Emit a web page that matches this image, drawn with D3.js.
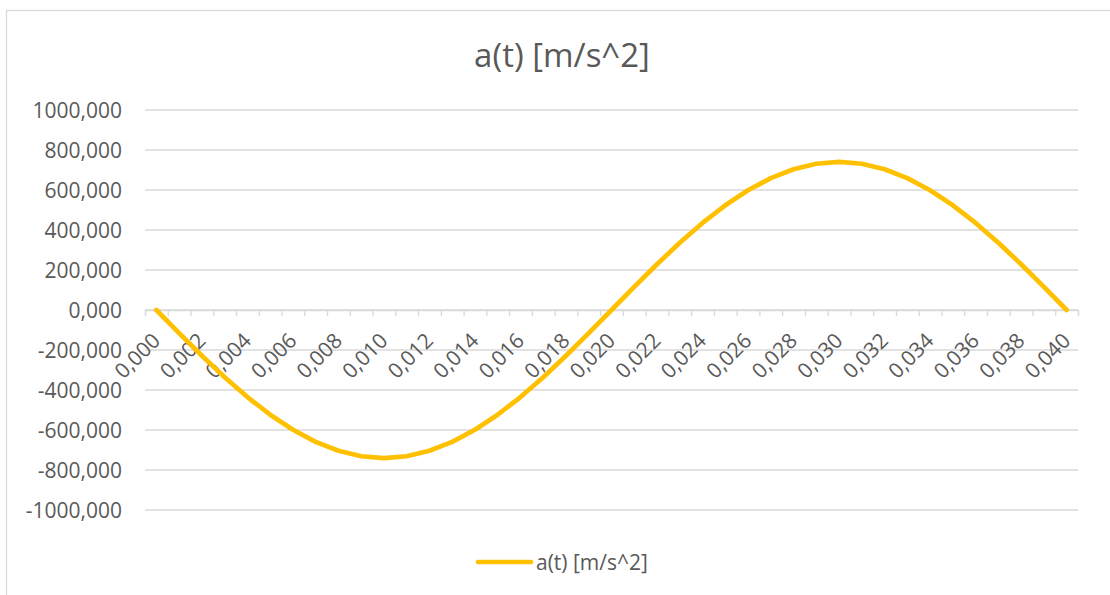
<!DOCTYPE html>
<html>
<head>
<meta charset="utf-8">
<script src="https://cdn.jsdelivr.net/npm/d3@7"></script>
<style>
  html, body { margin: 0; padding: 0; background: #fff; }
  svg { display: block; font-family: "Open Sans", Lato, sans-serif; }
</style>
</head>
<body>
<svg id="chart" width="1110" height="595"></svg>
<script>
// Time samples [s], one every millisecond over one period
const times = [
  0.000, 0.001, 0.002, 0.003, 0.004, 0.005, 0.006, 0.007, 0.008, 0.009,
  0.010, 0.011, 0.012, 0.013, 0.014, 0.015, 0.016, 0.017, 0.018, 0.019,
  0.020, 0.021, 0.022, 0.023, 0.024, 0.025, 0.026, 0.027, 0.028, 0.029,
  0.030, 0.031, 0.032, 0.033, 0.034, 0.035, 0.036, 0.037, 0.038, 0.039,
  0.040
];

// Acceleration a(t) [m/s^2]
const accel = [
     0.0, -115.8, -228.7, -336.0, -435.1, -523.4, -598.8, -659.5, -704.0, -731.1,
  -740.2, -731.1, -704.0, -659.5, -598.8, -523.4, -435.1, -336.0, -228.7, -115.8,
     0.0,  115.8,  228.7,  336.0,  435.1,  523.4,  598.8,  659.5,  704.0,  731.1,
   740.2,  731.1,  704.0,  659.5,  598.8,  523.4,  435.1,  336.0,  228.7,  115.8,
     0.0
];

const yTicks = [-1000, -800, -600, -400, -200, 0, 200, 400, 600, 800, 1000];
const seriesName = "a(t) [m/s^2]";
const title = "a(t) [m/s^2]";

const svg = d3.select("#chart");
const textColor = "#595959";
const gridColor = "#d9d9d9";
const lineColor = "#FFC000";
const labelFont = "21px";

const plotLeft = 145, plotRight = 1078, plotTop = 110, plotBottom = 510;

// Chart frame
svg.append("rect")
  .attr("x", 6.5).attr("y", 10.5)
  .attr("width", 1200).attr("height", 700)
  .attr("fill", "none").attr("stroke", gridColor).attr("stroke-width", 1.3);

// Decimal comma, plain hyphen for negatives
const locale = d3.formatLocale({ decimal: ",", thousands: "", grouping: [3], currency: ["", ""], minus: "-" });
const fmt = locale.format(".3f");

const x = d3.scaleBand().domain(d3.range(times.length)).range([plotLeft, plotRight]).padding(0);
const y = d3.scaleLinear().domain([-1000, 1000]).range([plotBottom, plotTop]);

// Horizontal gridlines
svg.append("g").selectAll("line").data(yTicks).join("line")
  .attr("x1", plotLeft).attr("x2", plotRight)
  .attr("y1", d => y(d)).attr("y2", d => y(d))
  .attr("stroke", gridColor).attr("stroke-width", 1.3);

// Value axis labels
const yAxis = d3.axisLeft(y).tickValues(yTicks).tickSize(0).tickPadding(0).tickFormat(fmt);
const gy = svg.append("g").attr("transform", `translate(${plotLeft - 23},0)`).call(yAxis);
gy.select(".domain").remove();
gy.selectAll("text")
  .attr("fill", textColor).attr("font-size", labelFont)
  .attr("font-family", "'Open Sans', Lato, sans-serif")
  .attr("dy", "0.36em");

// Category axis tick marks at category boundaries
const xb = d3.scaleLinear().domain([0, times.length]).range([plotLeft, plotRight]);
const gTicks = svg.append("g").attr("transform", `translate(0,${y(0)})`)
  .call(d3.axisBottom(xb).tickValues(d3.range(times.length + 1)).tickSize(6).tickFormat(""));
gTicks.select(".domain").attr("stroke", gridColor).attr("stroke-width", 1.3);
gTicks.selectAll(".tick line").attr("stroke", gridColor).attr("stroke-width", 1.3);

// Category labels, every second sample, rotated
const labelIdx = d3.range(0, times.length, 2);
const gx = svg.append("g").attr("transform", `translate(0,${y(0)})`)
  .call(d3.axisBottom(x).tickValues(labelIdx).tickSize(0).tickFormat(i => fmt(times[i])));
gx.select(".domain").remove();
gx.selectAll("text")
  .attr("fill", textColor).attr("font-size", labelFont)
  .attr("font-family", "'Open Sans', Lato, sans-serif")
  .attr("text-anchor", "end")
  .attr("dy", null)
  .attr("y", 0)
  .attr("transform", "translate(5,32) rotate(-45)");

// Series line
const line = d3.line().x((d, i) => x(i) + x.bandwidth() / 2).y(d => y(d));
svg.append("path").datum(accel)
  .attr("d", line)
  .attr("fill", "none").attr("stroke", lineColor)
  .attr("stroke-width", 4.7).attr("stroke-linejoin", "round").attr("stroke-linecap", "round");

// Title
svg.append("text")
  .attr("x", 562).attr("y", 67)
  .attr("text-anchor", "middle")
  .attr("fill", textColor).attr("font-size", "33px")
  .text(title);

// Legend
const lg = svg.append("g");
lg.append("line")
  .attr("x1", 478).attr("x2", 531).attr("y1", 562).attr("y2", 562)
  .attr("stroke", lineColor).attr("stroke-width", 4.7).attr("stroke-linecap", "round");
lg.append("text")
  .attr("x", 536).attr("y", 570)
  .attr("fill", textColor).attr("font-size", labelFont)
  .text(seriesName);
</script>
</body>
</html>
